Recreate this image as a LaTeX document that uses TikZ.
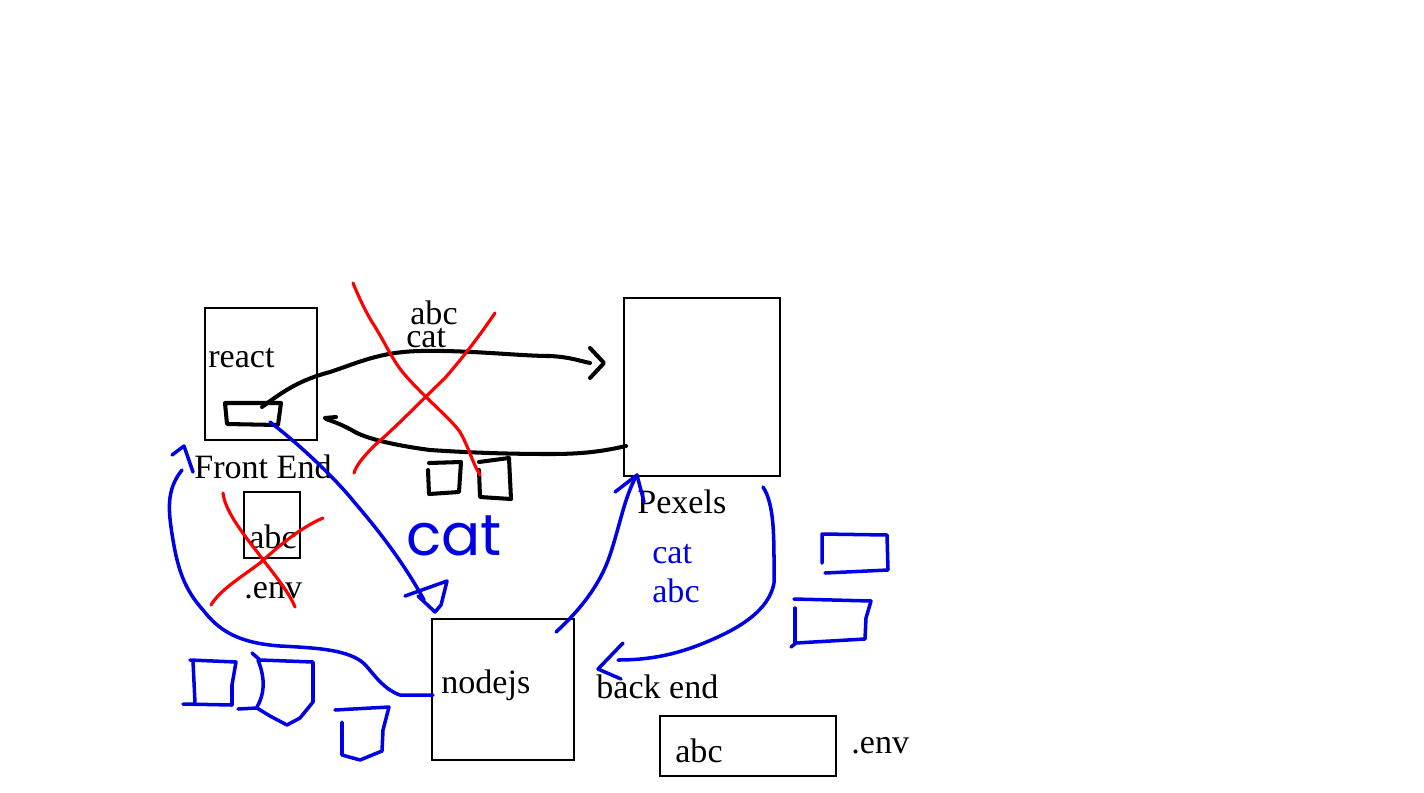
\documentclass[tikz,border=0pt]{standalone}
\usepackage{fontspec}
\setmainfont{Liberation Serif}
\newfontfamily\handfont{Poppins}
\begin{document}
\begin{tikzpicture}[x=0.02cm,y=-0.02cm,
  box/.style={draw=black,line width=1.1pt,inner sep=0pt},
  lbl/.style={anchor=base west,inner sep=0pt,font=\fontsize{19.4}{20}\selectfont},
  ink/.style={line width=2.3pt,line cap=round,line join=round},
  pen/.style={ink,black},
  redpen/.style={ink,red,line width=1.8pt},
  bluepen/.style={ink,blue!90!black,line width=2pt},
  bluetxt/.style={lbl,text=blue!90!black}]
\fill[white] (0,0) rectangle (1424,792);
\useasboundingbox (0,0) rectangle (1424,792);

% boxes
\node[box,minimum width=112*0.02cm,minimum height=132*0.02cm,anchor=north west] (react) at (204,307) {};
\node[box,minimum width=156*0.02cm,minimum height=178*0.02cm,anchor=north west] (pexels) at (623,297) {};
\node[box,minimum width=56*0.02cm,minimum height=66*0.02cm,anchor=north west] (feenv) at (243,491) {};
\node[box,minimum width=142*0.02cm,minimum height=141*0.02cm,anchor=north west] (nodejs) at (431,618) {};
\node[box,minimum width=176*0.02cm,minimum height=60*0.02cm,anchor=north west] (beenv) at (659,715) {};

% labels
\node[lbl] (treact) at (208,367) {react};
\node[lbl] (tabc1) at (410,324) {abc};
\node[lbl] (tcat1) at (406,347) {cat};
\node[lbl] (tfront) at (194,478) {Front End};
\node[lbl] (tabc2) at (249,548) {abc};
\node[lbl] (tenv1) at (244,598) {.env};
\node[lbl] (tnode) at (441,693) {nodejs};
\node[lbl] (tback) at (596,698) {back end};
\node[lbl] (tpex) at (637,513) {Pexels};
\node[bluetxt] (tcat2) at (652,563) {cat};
\node[bluetxt] (tabc3) at (652,602) {abc};
\node[lbl] (tabc4) at (675,762) {abc};
\node[lbl] (tenv2) at (851,753) {.env};
\node[anchor=base west,inner sep=0pt,text=blue!90!black,font=\handfont\fontsize{33}{33}\selectfont] (thand) at (406,555) {cat};

% black strokes
\draw[pen] (225,403) -- (281,403) -- (278,425) -- (227,424) -- cycle;
\draw[pen] (262,407) .. controls (285,390) and (300,380) .. (330,372)
  .. controls (360,362) and (380,352) .. (420,351)
  .. controls (470,350) and (520,356) .. (550,356)
  .. controls (570,357) and (580,361) .. (590,363);
\draw[pen] (590,348) -- (604,363) -- (590,378);
\draw[pen] (626,446) .. controls (600,452) and (580,454) .. (550,454)
  .. controls (500,454) and (460,452) .. (430,450)
  .. controls (400,446) and (370,440) .. (355,432)
  .. controls (345,426) and (335,422) .. (326,419);
\draw[pen] (336,417) -- (325,418);
\draw[pen] (429,463) -- (461,462) -- (459,492) -- (429,494) -- (428,470);
\draw[pen] (479,462) -- (509,458) -- (511,499) -- (480,497) -- (479,470);

% red strokes
\draw[redpen] (353,283) .. controls (360,300) and (366,312) .. (372,322)
  .. controls (385,342) and (392,360) .. (405,375)
  .. controls (425,398) and (450,418) .. (460,432)
  .. controls (470,450) and (472,462) .. (480,475);
\draw[redpen] (495,313) .. controls (480,335) and (465,355) .. (445,378)
  .. controls (420,402) and (395,428) .. (375,445)
  .. controls (362,458) and (356,466) .. (354,473);
\draw[redpen] (223,493) .. controls (225,510) and (240,530) .. (258,553)
  .. controls (272,572) and (288,590) .. (295,607);
\draw[redpen] (323,518) .. controls (300,528) and (280,545) .. (260,563)
  .. controls (240,578) and (220,590) .. (211,605);

% blue strokes
\draw[bluepen] (270,422) .. controls (300,445) and (335,478) .. (355,503)
  .. controls (380,532) and (405,565) .. (424,600);
\draw[bluepen] (405,596) -- (447,581) -- (441,605) -- (435,612) -- (418,596);
\draw[bluepen] (433,695) -- (400,695) .. controls (385,690) and (375,676) .. (368,668)
  .. controls (355,650) and (320,648) .. (280,646)
  .. controls (240,643) and (220,632) .. (203,610)
  .. controls (185,590) and (178,570) .. (173,540)
  .. controls (168,510) and (166,490) .. (182,470);
\draw[bluepen] (172,455) -- (184,446) -- (193,472);
\draw[bluepen] (556,632) .. controls (580,610) and (600,585) .. (610,555)
  .. controls (620,525) and (625,495) .. (637,475);
\draw[bluepen] (615,492) -- (637,475) -- (644,502);
\draw[bluepen] (763,487) .. controls (775,505) and (774,540) .. (774,583)
  .. controls (770,605) and (750,622) .. (720,636)
  .. controls (690,650) and (660,660) .. (618,660);
\draw[bluepen] (623,643) -- (598,669) -- (621,679);
% right scribbles
\draw[bluepen] (822,563) -- (822,534) -- (887,535) -- (888,570) -- (825,573);
\draw[bluepen] (794,599) -- (871,601) -- (866,618) -- (865,639) -- (796,643) -- (791,647);
\draw[bluepen] (795,608) -- (795,643);
% bottom-left scribbles
\draw[bluepen] (190,660) -- (236,662) -- (232,685) -- (232,705) -- (183,704);
\draw[bluepen] (193,661) -- (195,703);
\draw[bluepen] (252,653) -- (260,660) -- (313,662) -- (313,702) -- (300,718) -- (287,725)
  -- (270,716) -- (257,708) -- (238,709);
\draw[bluepen] (258,660) .. controls (266,680) and (264,695) .. (257,707);
\draw[bluepen] (335,710) -- (389,707) -- (383,730) -- (382,751) -- (360,760) -- (342,755) -- (342,722);
\end{tikzpicture}
\end{document}
